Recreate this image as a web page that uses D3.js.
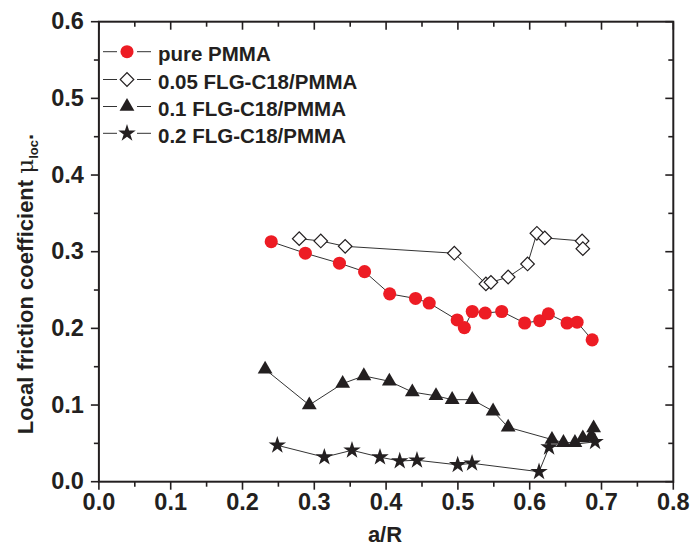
<!DOCTYPE html>
<html><head><meta charset="utf-8">
<script src="https://cdn.jsdelivr.net/npm/d3@7"></script>
<style>body{margin:0;background:#fff}svg{display:block}text{font-family:Arial,"Liberation Sans",sans-serif;font-weight:bold;fill:#231f20}</style>
</head><body><svg id="c" width="690" height="549"></svg>
<script>
const seriesNames = ["pure PMMA","0.05 FLG-C18/PMMA","0.1 FLG-C18/PMMA","0.2 FLG-C18/PMMA"];
const pureX = [0.240,0.2875,0.335,0.370,0.405,0.441,0.460,0.499,0.509,0.520,0.538,0.561,0.593,0.614,0.626,0.652,0.666,0.687];
const pureY = [0.313,0.298,0.285,0.274,0.245,0.239,0.233,0.211,0.201,0.222,0.220,0.222,0.207,0.210,0.219,0.207,0.208,0.185];
const s05X = [0.279,0.309,0.343,0.495,0.539,0.546,0.570,0.597,0.610,0.621,0.673,0.674];
const s05Y = [0.317,0.314,0.307,0.298,0.258,0.260,0.267,0.284,0.324,0.318,0.314,0.304];
const s1X = [0.2315,0.293,0.3395,0.369,0.4045,0.4365,0.4695,0.492,0.520,0.549,0.570,0.631,0.647,0.663,0.674,0.686,0.689];
const s1Y = [0.1466,0.100,0.128,0.138,0.131,0.117,0.112,0.107,0.107,0.092,0.071,0.055,0.051,0.051,0.057,0.060,0.070];
const s2X = [0.2485,0.314,0.3525,0.3915,0.419,0.443,0.4997,0.5197,0.613,0.627,0.691];
const s2Y = [0.0475,0.032,0.041,0.032,0.027,0.028,0.022,0.024,0.013,0.045,0.052];
const xTicks = [0.0,0.1,0.2,0.3,0.4,0.5,0.6,0.7,0.8];
const yTicks = [0.0,0.1,0.2,0.3,0.4,0.5,0.6];

const svg = d3.select("#c");
const L=98.9, R=673.3, T=21.7, B=481.7;
const x = d3.scaleLinear().domain([0,0.8]).range([L,R]);
const y = d3.scaleLinear().domain([0,0.6]).range([B,T]);

const red="#ed1c24", ink="#231f20";
const sym = [
  {type:d3.symbolCircle,size:135,fill:red,stroke:"none",rot:0},
  {type:d3.symbolSquare,size:92,fill:"#fff",stroke:ink,rot:45},
  {type:d3.symbolTriangle,size:95,fill:ink,stroke:"none",rot:0},
  {type:d3.symbolStar,size:95,fill:ink,stroke:"none",rot:0}
];
const data = [
  pureX.map((v,i)=>[v,pureY[i]]),
  s05X.map((v,i)=>[v,s05Y[i]]),
  s1X.map((v,i)=>[v,s1Y[i]]),
  s2X.map((v,i)=>[v,s2Y[i]])
];

// axes
const minorX = d3.range(0,0.8001,0.05);
const minorY = d3.range(0,0.6001,0.05);
const ax = svg.append("g").attr("stroke",ink);
minorX.forEach((v,i)=>{
  const len = i%2===0?8:5;
  ax.append("line").attr("x1",x(v)).attr("x2",x(v)).attr("y1",B).attr("y2",B+len).attr("stroke-width",1.6);
  ax.append("line").attr("x1",x(v)).attr("x2",x(v)).attr("y1",T).attr("y2",T+len).attr("stroke-width",1.6);
});
minorY.forEach((v,i)=>{
  const len = i%2===0?8:5;
  ax.append("line").attr("x1",L-len).attr("x2",L).attr("y1",y(v)).attr("y2",y(v)).attr("stroke-width",1.6);
  ax.append("line").attr("x1",R-len).attr("x2",R).attr("y1",y(v)).attr("y2",y(v)).attr("stroke-width",1.6);
});
ax.append("rect").attr("x",L).attr("y",T).attr("width",R-L).attr("height",B-T).attr("fill","none").attr("stroke-width",2);

svg.append("g").selectAll("text").data(xTicks).join("text")
  .attr("x",d=>x(d)).attr("y",510).attr("text-anchor","middle").attr("font-size",23.5)
  .text(d=>d.toFixed(1));
svg.append("g").selectAll("text").data(yTicks).join("text")
  .attr("x",L-15).attr("y",d=>y(d)+7.5).attr("text-anchor","end").attr("font-size",23.5)
  .text(d=>d.toFixed(1));

svg.append("text").attr("x",385).attr("y",542).attr("text-anchor","middle").attr("font-size",22).text("a/R");
const yt = svg.append("text").attr("transform","translate(33,284) rotate(-90)").attr("text-anchor","middle").attr("font-size",22);
yt.append("tspan").text("Local friction coefficient ");
yt.append("tspan").attr("font-family","'DejaVu Serif', serif").attr("font-weight","normal").attr("font-size",23).text("μ");
yt.append("tspan").attr("font-size",13).attr("dy",5).text("loc");
yt.append("tspan").attr("dy",-5).text(".");

// lines
const line = d3.line().x(d=>x(d[0])).y(d=>y(d[1]));
const plot = svg.append("g");
data.forEach(ds=>{
  plot.append("path").attr("d",line(ds)).attr("fill","none").attr("stroke","#333").attr("stroke-width",1);
});
data.forEach((ds,k)=>{
  const s = sym[k];
  plot.append("g").selectAll("path").data(ds).join("path")
    .attr("d",d3.symbol().type(s.type).size(s.size))
    .attr("transform",d=>`translate(${x(d[0])},${y(d[1])}) rotate(${s.rot})`)
    .attr("fill",s.fill).attr("stroke",s.stroke).attr("stroke-width",1.2);
});

// legend
const legY = [51.7,79.5,106.5,133.3];
const lg = svg.append("g");
seriesNames.forEach((n,k)=>{
  const s = sym[k], cy = legY[k], cx = 127;
  lg.append("line").attr("x1",103).attr("x2",cx-10).attr("y1",cy).attr("y2",cy).attr("stroke","#333").attr("stroke-width",1);
  lg.append("line").attr("x1",cx+10).attr("x2",151).attr("y1",cy).attr("y2",cy).attr("stroke","#333").attr("stroke-width",1);
  lg.append("path").attr("d",d3.symbol().type(s.type).size(s.size))
    .attr("transform",`translate(${cx},${cy}) rotate(${s.rot})`)
    .attr("fill",s.fill).attr("stroke",s.stroke).attr("stroke-width",1.2);
  lg.append("text").attr("x",158).attr("y",cy+9.5).attr("font-size",20.5).text(n);
});
</script></body></html>
